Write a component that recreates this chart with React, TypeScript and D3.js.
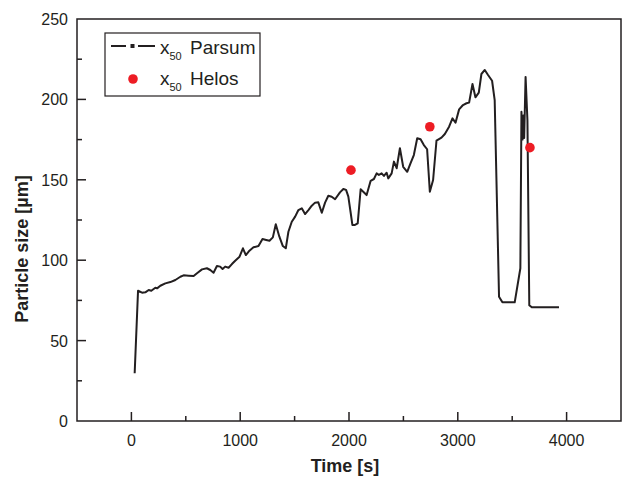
import React, { useEffect, useRef } from 'react'
import * as d3 from 'd3'

// x50 Parsum readings (time in s, size in µm)
const parsumTime = [
  30, 61, 98, 128, 159, 183, 220, 236, 266, 312, 358, 404, 450, 480, 526, 572, 603, 649, 694, 725,
  755, 786, 816, 838, 862, 893, 924, 954, 994, 1025, 1052, 1085, 1122, 1168, 1205, 1239, 1269, 1300,
  1327, 1360, 1392, 1419, 1443, 1474, 1505, 1535, 1566, 1596, 1627, 1658, 1688, 1718, 1750, 1780,
  1810, 1841, 1872, 1917, 1948, 1973, 1994, 2016, 2031, 2055, 2080, 2107, 2131, 2162, 2199, 2229,
  2254, 2275, 2300, 2321, 2346, 2361, 2392, 2413, 2438, 2468, 2498, 2535, 2566, 2596, 2627, 2658,
  2688, 2718, 2743, 2773, 2804, 2850, 2881, 2920, 2951, 2979, 3012, 3048, 3080, 3104, 3135, 3162,
  3193, 3217, 3248, 3278, 3315, 3339, 3379, 3410, 3523, 3575, 3585, 3595, 3602, 3610, 3623, 3640,
  3657, 3680, 3930
]
const parsumSize = [
  29.7, 81.0, 79.8, 80.0, 81.5, 81.0, 82.9, 82.5, 84.1, 85.6, 86.4, 87.7, 89.7, 90.6, 90.4, 90.2, 91.9, 94.3, 95.0, 93.9,
  92.2, 96.4, 96.0, 94.5, 96.0, 95.3, 97.6, 99.7, 102.2, 107.4, 103.2, 105.9, 108.0, 108.8, 113.2, 112.6, 112.1, 114.2,
  122.3, 114.6, 108.8, 107.4, 117.7, 123.9, 127.1, 131.2, 132.3, 128.7, 131.2, 133.9, 135.8, 136.0, 129.5, 135.8,
  140.1, 139.5, 137.9, 142.2, 144.3, 143.7, 139.5, 129.2, 121.9, 121.9, 122.9, 144.1, 142.6, 140.5, 149.4, 150.5,
  154.0, 153.0, 154.0, 152.4, 154.4, 150.9, 154.0, 161.3, 157.2, 169.6, 158.1, 155.0, 160.3, 165.4, 175.8, 175.2,
  171.6, 169.0, 142.6, 149.9, 174.3, 176.2, 178.5, 183.0, 188.2, 185.5, 193.8, 196.5, 197.6, 198.0, 209.6, 201.3,
  204.2, 215.8, 218.3, 215.2, 211.6, 199.6, 77.3, 73.8, 73.8, 95.0, 192.3, 175.0, 190.0, 176.0, 214.0, 187.0,
  72.0, 70.7, 70.7
]

// x50 Helos readings
const helosTime = [2018, 2743, 3663]
const helosSize = [156, 183, 170]

const xTicks = [0, 1000, 2000, 3000, 4000]
const yTicks = [0, 50, 100, 150, 200, 250]

const W = 624
const H = 478
const margin = { left: 77, right: 3, top: 19, bottom: 57 }
const FONT = 'Liberation Sans, Arial, sans-serif'
const INK = '#231f20'

function Chart() {
  const ref = useRef<SVGSVGElement>(null)

  useEffect(() => {
    const svg = d3.select(ref.current)
    svg.selectAll('*').remove()

    const x = d3.scaleLinear().domain([-500, 4500]).range([margin.left, W - margin.right])
    const y = d3.scaleLinear().domain([0, 250]).range([H - margin.bottom, margin.top])

    const [x0, x1] = x.range()
    const [y0, y1] = y.range()

    // frame
    svg.append('rect')
      .attr('x', x0).attr('y', y1)
      .attr('width', x1 - x0).attr('height', y0 - y1)
      .attr('fill', 'none').attr('stroke', INK).attr('stroke-width', 1.5)

    // x ticks (inward)
    const xMinor = d3.range(-500, 4501, 500).filter(v => !xTicks.includes(v) && v > -500 && v < 4500)
    svg.append('g').selectAll('line').data(xTicks).join('line')
      .attr('x1', d => x(d)).attr('x2', d => x(d))
      .attr('y1', y0).attr('y2', y0 - 9)
      .attr('stroke', INK).attr('stroke-width', 1.5)
    svg.append('g').selectAll('line').data(xMinor).join('line')
      .attr('x1', d => x(d)).attr('x2', d => x(d))
      .attr('y1', y0).attr('y2', y0 - 5)
      .attr('stroke', INK).attr('stroke-width', 1.5)
    svg.append('g').selectAll('text').data(xTicks).join('text')
      .attr('x', d => x(d)).attr('y', 446)
      .attr('text-anchor', 'middle')
      .attr('font-family', FONT).attr('font-size', 16).attr('fill', INK)
      .text(d => d)

    // y ticks (inward)
    const yMinor = d3.range(25, 250, 50)
    svg.append('g').selectAll('line').data(yTicks.filter(v => v > 0 && v < 250)).join('line')
      .attr('x1', x0).attr('x2', x0 + 9)
      .attr('y1', d => y(d)).attr('y2', d => y(d))
      .attr('stroke', INK).attr('stroke-width', 1.5)
    svg.append('g').selectAll('line').data(yMinor).join('line')
      .attr('x1', x0).attr('x2', x0 + 5)
      .attr('y1', d => y(d)).attr('y2', d => y(d))
      .attr('stroke', INK).attr('stroke-width', 1.5)
    svg.append('g').selectAll('text').data(yTicks).join('text')
      .attr('x', 68).attr('y', d => y(d) + 6)
      .attr('text-anchor', 'end')
      .attr('font-family', FONT).attr('font-size', 16).attr('fill', INK)
      .text(d => d)

    // axis titles
    svg.append('text')
      .attr('x', (x0 + x1) / 2 - 4).attr('y', 472)
      .attr('text-anchor', 'middle')
      .attr('font-family', FONT).attr('font-size', 18).attr('font-weight', 'bold').attr('fill', INK)
      .text('Time [s]')
    svg.append('text')
      .attr('transform', `translate(28,${(y0 + y1) / 2 + 29}) rotate(-90)`)
      .attr('text-anchor', 'middle')
      .attr('font-family', FONT).attr('font-size', 18).attr('font-weight', 'bold').attr('fill', INK)
      .text('Particle size [µm]')

    // Parsum line
    const pts = parsumTime.map((t, i) => [t, parsumSize[i]] as [number, number])
    const line = d3.line<[number, number]>().x(d => x(d[0])).y(d => y(d[1]))
    svg.append('path')
      .attr('d', line(pts))
      .attr('fill', 'none').attr('stroke', INK).attr('stroke-width', 2)
      .attr('stroke-linejoin', 'round')

    // Helos points
    svg.append('g').selectAll('circle').data(helosTime).join('circle')
      .attr('cx', d => x(d)).attr('cy', (d, i) => y(helosSize[i]))
      .attr('r', 4.8).attr('fill', '#ed1c24')

    // legend
    const lg = svg.append('g')
    lg.append('rect')
      .attr('x', 105).attr('y', 33).attr('width', 155).attr('height', 63)
      .attr('fill', '#fff').attr('stroke', INK).attr('stroke-width', 1.2)
    lg.append('line').attr('x1', 111).attr('x2', 126).attr('y1', 46).attr('y2', 46)
      .attr('stroke', INK).attr('stroke-width', 2)
    lg.append('rect').attr('x', 130.5).attr('y', 44).attr('width', 4).attr('height', 4).attr('fill', INK)
    lg.append('line').attr('x1', 138).attr('x2', 155).attr('y1', 46).attr('y2', 46)
      .attr('stroke', INK).attr('stroke-width', 2)
    lg.append('circle').attr('cx', 133).attr('cy', 79).attr('r', 4.8).attr('fill', '#ed1c24')

    const labels = [['Parsum', 54], ['Helos', 85]] as [string, number][]
    labels.forEach(([name, by]) => {
      const t = lg.append('text')
        .attr('x', 160).attr('y', by)
        .attr('font-family', FONT).attr('font-size', 19).attr('fill', INK)
      t.append('tspan').text('x')
      t.append('tspan').attr('font-size', 11).attr('dy', 6).text('50')
      t.append('tspan').attr('dy', -6).attr('x', 190).text(name)
    })
  }, [])

  return <svg ref={ref} width={W} height={H} style={{ position: 'absolute', left: 0, top: 0, background: '#fff' }} />
}

export default function App() {
  return <Chart />
}
